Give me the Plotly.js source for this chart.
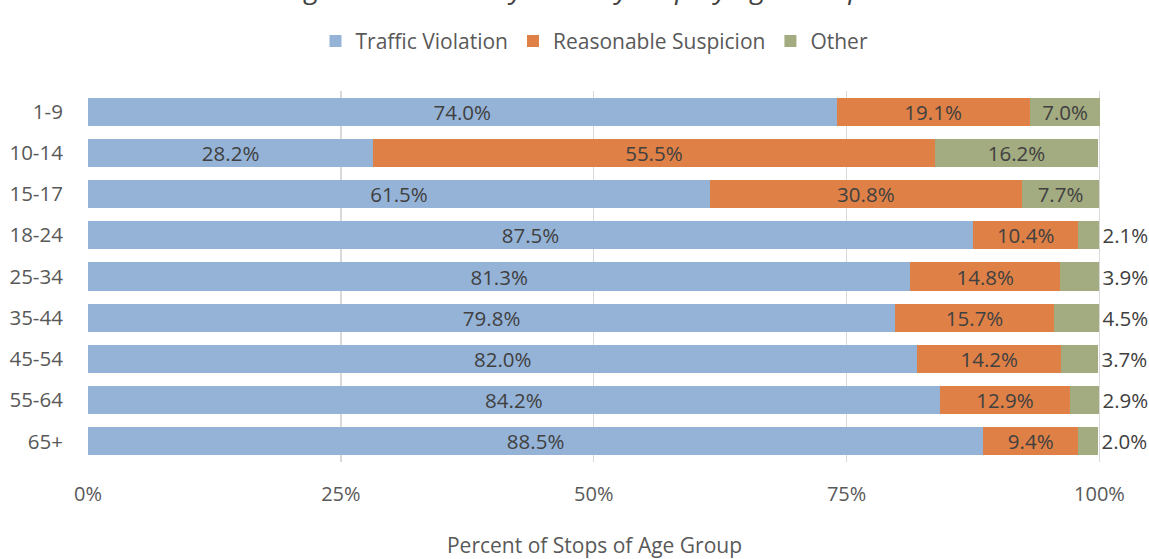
<!DOCTYPE html>
<html>
<head>
<meta charset="utf-8">
<script src="https://cdn.plot.ly/plotly-3.0.1.min.js"></script>
<style>html,body{margin:0;padding:0;background:#fff;}#chart{width:1149px;height:559px;}</style>
</head>
<body>
<div id="chart"></div>
<script>
var titleText = "Figure 4: Reason by Primary Stop by Age Group";
var ageGroups = ["1-9", "10-14", "15-17", "18-24", "25-34", "35-44", "45-54", "55-64", "65+"];
var trafficViolation = [74.0, 28.2, 61.5, 87.5, 81.3, 79.8, 82.0, 84.2, 88.5];
var reasonableSuspicion = [19.1, 55.5, 30.8, 10.4, 14.8, 15.7, 14.2, 12.9, 9.4];
var other = [7.0, 16.2, 7.7, 2.1, 3.9, 4.5, 3.7, 2.9, 2.0];
var seriesNames = ["Traffic Violation", "Reasonable Suspicion", "Other"];
var xTicks = [0, 25, 50, 75, 100];
var xAxisTitle = "Percent of Stops of Age Group";

var FONT = "Open Sans, sans-serif";
var labelFont = {family: FONT, size: 20.5, color: "#404040"};

function mk(name, vals, color, positions) {
  return {
    type: "bar", orientation: "h", name: name,
    y: ageGroups, x: vals,
    marker: {color: color},
    text: vals.map(function(v){ return v.toFixed(1) + "%"; }),
    textposition: positions,
    insidetextanchor: "middle",
    constraintext: "none",
    cliponaxis: false,
    textfont: labelFont,
    insidetextfont: labelFont,
    outsidetextfont: labelFont,
    hoverinfo: "none"
  };
}

var otherPos = other.map(function(v, i){ return i < 3 ? "inside" : "outside"; });

var data = [
  mk(seriesNames[0], trafficViolation, "#95B3D7", "inside"),
  mk(seriesNames[1], reasonableSuspicion, "#DF8047", "inside"),
  mk(seriesNames[2], other, "#A3AB80", otherPos)
];

var layout = {
  width: 1149, height: 559,
  margin: {l: 88, r: 48, t: 91, b: 97},
  paper_bgcolor: "#fff", plot_bgcolor: "#fff",
  barmode: "stack", bargap: 0.32,
  showlegend: true,
  title: {
    text: titleText, x: 0.5, xanchor: "center",
    y: 1, yref: "container", yanchor: "bottom", pad: {b: 2},
    font: {family: FONT, size: 28, color: "#404040", style: "italic"}
  },
  legend: {
    orientation: "h", x: 0.5, xanchor: "center", y: 1.134, yanchor: "middle",
    font: {family: FONT, size: 21, color: "#595959"},
    traceorder: "normal"
  },
  xaxis: {
    range: [0, 100.15], tickvals: xTicks, ticktext: xTicks.map(function(v){return v + "%";}),
    showgrid: true, gridcolor: "#D9D9D9", gridwidth: 1.3, zeroline: false,
    ticks: "outside", ticklen: 14, tickcolor: "rgba(0,0,0,0)",
    tickfont: {family: FONT, size: 20, color: "#595959"},
    showline: false, fixedrange: true,
    title: {text: xAxisTitle, standoff: 34, font: {family: FONT, size: 21, color: "#595959"}}
  },
  yaxis: {
    autorange: "reversed", type: "category",
    ticks: "outside", ticklen: 20, tickcolor: "rgba(0,0,0,0)",
    tickfont: {family: FONT, size: 20.5, color: "#595959"},
    showgrid: false, zeroline: false, showline: false, fixedrange: true
  }
};

Plotly.newPlot("chart", data, layout, {displayModeBar: false, staticPlot: true});
</script>
</body>
</html>
